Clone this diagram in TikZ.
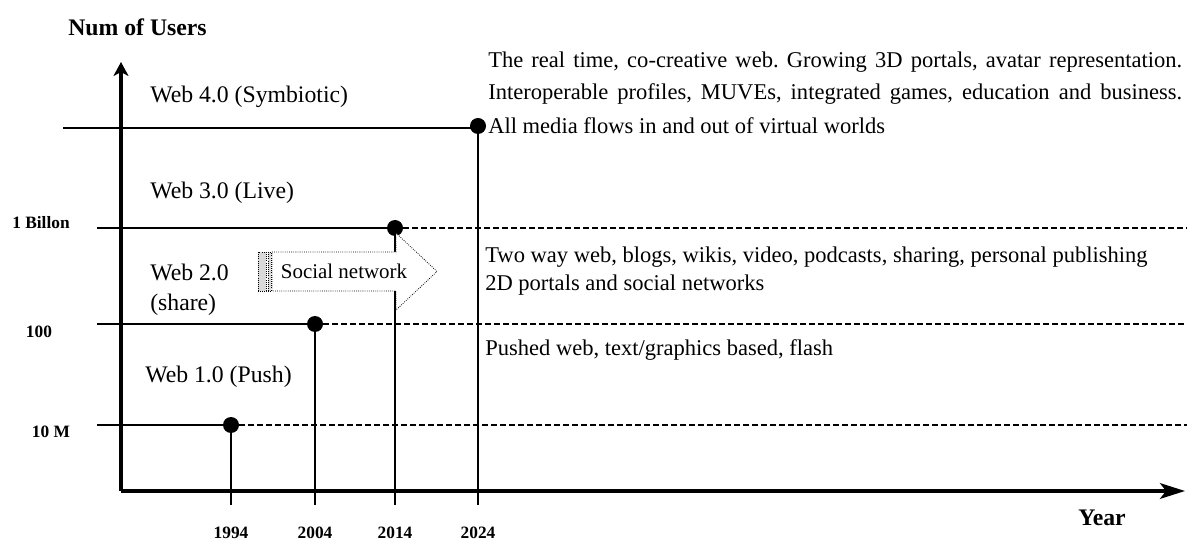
\documentclass[tikz,border=0pt]{standalone}
\usepackage{fontspec}
\setmainfont{Liberation Serif}
\usetikzlibrary{arrows.meta}
\frenchspacing
\begin{document}
\begin{tikzpicture}[x=0.75pt,y=-0.75pt,
  axis/.style={line width=2.3pt},
  level/.style={line width=2.2pt},
  guide/.style={line width=1.5pt, dash pattern=on 4.5pt off 2.25pt},
  dot/.style={circle, fill=black, inner sep=0pt, minimum size=12pt},
  lbl/.style={inner sep=0pt, anchor=west, font=\fontsize{17.8pt}{21pt}\selectfont},
  desc/.style={inner sep=0pt, anchor=west, font=\fontsize{16.9pt}{20pt}\selectfont},
  tick/.style={inner sep=0pt, font=\fontsize{13pt}{15pt}\selectfont\bfseries},
  title/.style={inner sep=0pt, font=\fontsize{17.8pt}{21pt}\selectfont\bfseries},
  arrowline/.style={densely dotted, line width=0.6pt},
]
\useasboundingbox (0,0) rectangle (1187,548);

% axes
\coordinate (O) at (121,491);
\coordinate (ytop) at (121,62);
\coordinate (xend) at (1185,491);
\draw[axis, -{Stealth[length=10.5pt,width=11.25pt,inset=3pt]}] (O) -- (ytop);
\draw[axis, -{Stealth[length=18.75pt,width=11.75pt,inset=4.5pt]}] (O) -- (xend);

% dots
\node[dot] (d1994) at (231,425) {};
\node[dot] (d2004) at (315,324) {};
\node[dot] (d2014) at (395,228) {};
\node[dot] (d2024) at (478,126) {};

% level line start / end coordinates
\coordinate (s10M) at (97,425);  \coordinate (e10M) at (1187,425);
\coordinate (s100) at (97,324);  \coordinate (e100) at (1187,324);
\coordinate (s1B)  at (97,228);  \coordinate (e1B)  at (1187,228);
\coordinate (s4)   at (63,128);
\coordinate (t1994) at (231,505);
\coordinate (t2004) at (315,505);
\coordinate (t2014) at (395,505);
\coordinate (t2024) at (478,505);

% solid level lines
\draw[level] (s10M) -- (d1994);
\draw[level] (s100) -- (d2004);
\draw[level] (s1B) -- (d2014);
\draw[level] (s4) -- (s4 -| d2024);

% dashed continuations
\draw[guide] (d1994) -- (e10M);
\draw[guide] (d2004) -- (e100);
\draw[guide] (d2014) -- (e1B);

% verticals
\draw[level] (d1994) -- (t1994);
\draw[level] (d2004) -- (t2004);
\draw[level] (d2014) -- (t2014);
\draw[level] (d2024) -- (t2024);

% striped arrow "Social network"
\draw[arrowline, fill=white] (272,252) -- (396,252) -- (396,233) -- (437,271.5) -- (396,310) -- (396,291) -- (272,291) -- cycle;
\draw[arrowline, fill=gray!30] (258,252) rectangle (266,291);
\draw[arrowline, fill=gray!30] (268,252) rectangle (271,291);
\node[inner sep=0pt, font=\fontsize{15.7pt}{18pt}\selectfont] (sn) at (344,271) {Social network};

% era labels
\node[lbl] (w4) at (150,97) {Web 4.0 (Symbiotic)};
\node[lbl] (w3) at (150,193) {Web 3.0 (Live)};
\node[lbl] (w2) at (150,272) {Web 2.0};
\node[lbl] (w2b) at (150,305) {(share)};
\node[lbl] (w1) at (145,377) {Web 1.0 (Push)};

% descriptions
\node[desc] (r1) at (488,62) {\makebox[520.5pt][s]{The real time, co-creative web. Growing 3D portals, avatar representation.}};
\node[desc] (r2) at (488,94) {\makebox[520.5pt][s]{Interoperable profiles, MUVEs, integrated games, education and business.}};
\node[desc] (r3) at (488,126) {All media flows in and out of virtual worlds};
\node[desc] (m1) at (485,257) {Two way web, blogs, wikis, video, podcasts, sharing, personal publishing};
\node[desc] (m2) at (485,285) {2D portals and social networks};
\node[desc] (m3) at (485,350) {Pushed web, text/graphics based, flash};

% axis labels
\node[title] (nu) at (137.5,27) {Num of Users};
\node[title] (yr) at (1102,518) {Year};
\node[tick] (y1b) at (41,223) {1 Billon};
\node[tick] (y100) at (39,332) {100};
\node[tick] (y10m) at (51,432) {10 M};
\node[tick] (x1994) at (231,533) {1994};
\node[tick] (x2004) at (315,533) {2004};
\node[tick] (x2014) at (395,533) {2014};
\node[tick] (x2024) at (478,533) {2024};
\end{tikzpicture}
\end{document}
